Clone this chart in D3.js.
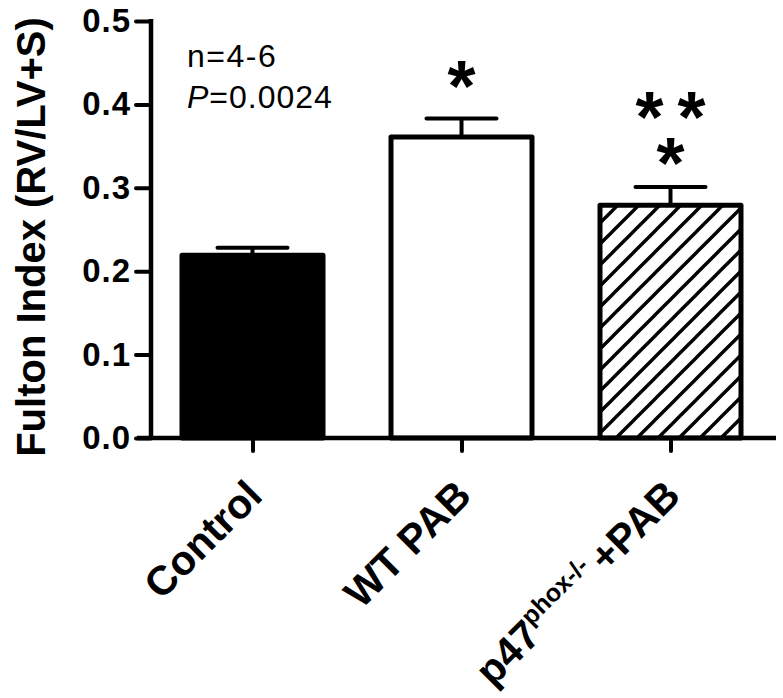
<!DOCTYPE html>
<html><head><meta charset="utf-8">
<script src="https://cdn.jsdelivr.net/npm/d3@7"></script>
<style>body{margin:0;background:#fff}svg{display:block}text{font-family:Arial,"Liberation Sans",sans-serif}</style>
</head><body>
<script>
const categories = ["Control", "WT PAB", "p47phox-/- +PAB"];
const means = [0.219, 0.361, 0.279];
const errors = [0.009, 0.022, 0.022];
const fills = ["black", "white", "hatch"];
const starRows = [[], ["*"], ["**", "*"]];
const yTicks = [0.0, 0.1, 0.2, 0.3, 0.4, 0.5];
const yTitle = "Fulton Index (RV/LV+S)";
const noteN = "n=4-6";
const noteP = "=0.0024";

const W = 783, H = 698;
const svg = d3.select("body").append("svg").attr("width", W).attr("height", H);

const defs = svg.append("defs");
const P = 21;
const pat = defs.append("pattern").attr("id", "hatch").attr("patternUnits", "userSpaceOnUse")
  .attr("width", P).attr("height", P).attr("x", 4);
pat.append("path").attr("d", `M0,${P} L${P},0 M${-P/4},${P/4} L${P/4},${-P/4} M${P*3/4},${P*5/4} L${P*5/4},${P*3/4}`)
  .attr("stroke", "black").attr("stroke-width", 3.4);

const y = d3.scaleLinear().domain([0, 0.5]).range([438, 21]);
const x = d3.scalePoint().domain(categories).range([148, 775]).padding(0.5);
const barW = 141;

// bars
const g = svg.append("g");
categories.forEach((c, i) => {
  const cx = x(c);
  const top = y(means[i]);
  g.append("rect").attr("x", cx - barW / 2).attr("y", top)
    .attr("width", barW).attr("height", y(0) - top)
    .attr("fill", fills[i] === "hatch" ? "url(#hatch)" : fills[i])
    .attr("stroke", "black").attr("stroke-width", 5).attr("stroke-linejoin", "round");
  const ye = y(means[i] + errors[i]);
  g.append("line").attr("x1", cx).attr("x2", cx).attr("y1", top).attr("y2", ye)
    .attr("stroke", "black").attr("stroke-width", 4);
  g.append("line").attr("x1", cx - 35).attr("x2", cx + 35).attr("y1", ye).attr("y2", ye)
    .attr("stroke", "black").attr("stroke-width", 4).attr("stroke-linecap", "round");
  // significance stars
  const rows = starRows[i];
  rows.forEach((s, k) => {
    const fromTop = rows.length - 1 - k; // last row nearest bar
    const cy = ye - 35 - fromTop * 46 - (rows.length === 1 ? 9 : 0);
    const chars = s.split("");
    chars.forEach((ch, j) => {
      const off = (j - (chars.length - 1) / 2) * 42;
      g.append("text").attr("x", cx + off).attr("y", cy + 36)
        .attr("text-anchor", "middle").attr("font-size", 72).attr("font-weight", "bold")
        .text(ch);
    });
  });
});

// y axis
const yAxis = svg.append("g").attr("transform", "translate(151,0)")
  .call(d3.axisLeft(y).tickValues(yTicks).tickFormat(d3.format(".1f")).tickSize(15).tickPadding(5));
yAxis.select(".domain").remove();
yAxis.selectAll(".tick line").attr("stroke", "black").attr("stroke-width", 4).attr("stroke-linecap", "round");
yAxis.selectAll(".tick text").attr("font-size", 33).attr("font-weight", "bold").attr("fill", "black")
  .attr("font-family", "Arial, 'Liberation Sans', sans-serif").attr("letter-spacing", 1);
svg.append("line").attr("x1", 151).attr("x2", 151).attr("y1", y(0.5) - 2).attr("y2", y(0) + 2)
  .attr("stroke", "black").attr("stroke-width", 4.5);

// x axis
const xAxis = svg.append("g").attr("transform", `translate(0,${y(0)})`)
  .call(d3.axisBottom(x).tickSize(13).tickFormat(""));
xAxis.select(".domain").remove();
xAxis.selectAll(".tick line").attr("stroke", "black").attr("stroke-width", 4).attr("stroke-linecap", "round");
svg.append("line").attr("x1", 137).attr("x2", 776).attr("y1", y(0)).attr("y2", y(0))
  .attr("stroke", "black").attr("stroke-width", 4.5);

// category labels
categories.forEach((c, i) => {
  const t = svg.append("text")
    .attr("transform", `translate(${x(c) - 9},477) rotate(-45)`)
    .attr("text-anchor", "end").attr("dy", "0.72em")
    .attr("font-size", 41).attr("font-weight", "bold");
  if (c.startsWith("p47")) {
    t.append("tspan").text("p47");
    t.append("tspan").attr("font-size", 25).attr("dy", -16).text("phox-/- ");
    t.append("tspan").attr("dy", 16).text("+PAB");
  } else {
    t.text(c);
  }
});

// y title
svg.append("text").attr("transform", "translate(45,237) rotate(-90)")
  .attr("text-anchor", "middle").attr("font-size", 40).attr("font-weight", "bold").text(yTitle);

// notes
svg.append("text").attr("x", 187).attr("y", 67).attr("font-size", 32).attr("letter-spacing", 1.5).text(noteN);
const tp = svg.append("text").attr("x", 187).attr("y", 108).attr("font-size", 32).attr("letter-spacing", 1);
tp.append("tspan").attr("font-style", "italic").text("P");
tp.append("tspan").text(noteP);
</script>
</body></html>
